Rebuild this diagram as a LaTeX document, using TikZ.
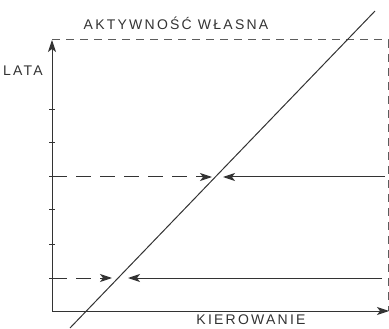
\documentclass[tikz,border=0pt]{standalone}
\usepackage{fontspec}
\setmainfont{Liberation Sans}
\newfontfamily\handfont[LetterSpace=16]{Liberation Sans}
\usetikzlibrary{arrows.meta}
\definecolor{ink}{HTML}{333333}
\tikzset{
  ln/.style={draw=ink, line width=1pt},
  tip/.style={-{Stealth[length=12pt,width=8pt,inset=3pt]}},
  dsh/.style={dash pattern=on 15pt off 9pt},
  frame/.style={dash pattern=on 8pt off 6pt, line width=1pt, draw=ink!80},
  lbl/.style={font=\handfont\fontsize{14}{14}\selectfont, text=ink, inner sep=0pt}
}
\begin{document}
\begin{tikzpicture}[x=1pt,y=-1pt]
\useasboundingbox (0,0) rectangle (389,329);
% axes points
\coordinate (O) at (52,311);
\coordinate (Ytop) at (52,40);
\coordinate (Xend) at (389,311);
\coordinate (TR) at (388,40);
\coordinate (BR) at (388,311);
\coordinate (Dlo) at (70,328);
\coordinate (Dhi) at (375,11);
% upper arrows
\coordinate (A1s) at (52,177);
\coordinate (A1e) at (212,177);
\coordinate (B1s) at (385,177);
\coordinate (B1e) at (223,177);
% lower arrows
\coordinate (A2s) at (52,278);
\coordinate (A2e) at (112,278);
\coordinate (B2s) at (382,278);
\coordinate (B2e) at (128,278);
% frame
\draw[frame] (Ytop) -- (TR) -- (BR);
% axes
\draw[ln,tip] (O) -- (Ytop);
\draw[ln,tip] (O) -- (Xend);
% ticks
\foreach \y in {110,143,177,210,244,278} \draw[ln] (49,\y) -- (55,\y);
% diagonal
\draw[ln] (Dlo) -- (Dhi);
% arrows
\draw[ln,tip,dsh] (A1s) -- (A1e);
\draw[ln,tip] (B1s) -- (B1e);
\draw[ln,tip,dsh] (A2s) -- (A2e);
\draw[ln,tip] (B2s) -- (B2e);
% labels
\node[lbl] (title) at (176,23) {AKTYWNOŚĆ WŁASNA};
\node[lbl] (lata) at (23,71) {LATA};
\node[lbl] (kier) at (251,320) {KIEROWANIE};
\end{tikzpicture}
\end{document}
